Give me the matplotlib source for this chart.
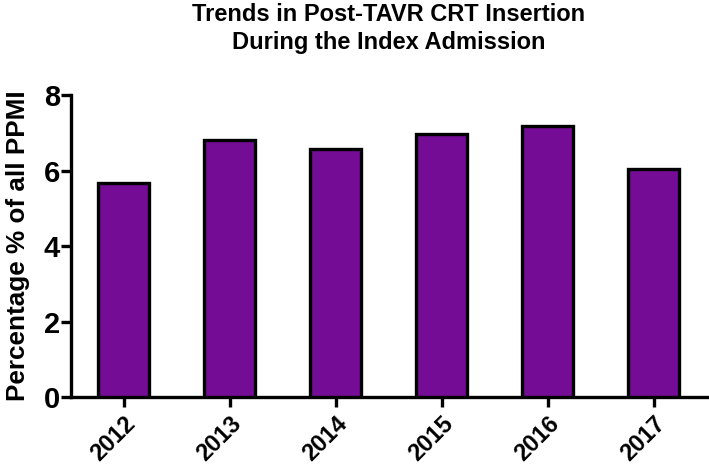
import matplotlib.pyplot as plt

years = ["2012", "2013", "2014", "2015", "2016", "2017"]
pct = [5.67, 6.82, 6.57, 6.97, 7.18, 6.03]

plt.rcParams['font.family'] = ['Liberation Sans', 'DejaVu Sans']
plt.rcParams['font.weight'] = 'bold'

fig = plt.figure(figsize=(7.09, 4.66), dpi=100)
ax = fig.add_axes([0.100, 0.148, 0.897, 0.648])

x = range(len(years))
ax.bar(x, pct, width=0.48, color='#740C96', edgecolor='black', linewidth=2.4, zorder=3)

ax.set_xlim(-0.5, 5.5)
ax.set_ylim(0, 8)
ax.set_yticks([0, 2, 4, 6, 8])
ax.set_xticks(list(x))
ax.set_xticklabels(years, rotation=45, ha='right', rotation_mode='anchor', fontsize=17, fontweight='bold')
for lab in ax.get_yticklabels():
    lab.set_fontsize(21)
    lab.set_fontweight('bold')

for s in ['top', 'right']:
    ax.spines[s].set_visible(False)
for s in ['left', 'bottom']:
    ax.spines[s].set_linewidth(2.4)
ax.tick_params(axis='both', width=2.4, length=7, direction='out')
ax.tick_params(axis='y', pad=1)
ax.tick_params(axis='x', pad=4)

ax.set_ylabel("Percentage % of all PPMI", fontsize=18.8, fontweight='bold', labelpad=10)
ax.set_title("Trends in Post-TAVR CRT Insertion\nDuring the Index Admission",
             fontsize=17, fontweight='bold', pad=33, linespacing=1.3)

fig.savefig('out.png', dpi=100)
